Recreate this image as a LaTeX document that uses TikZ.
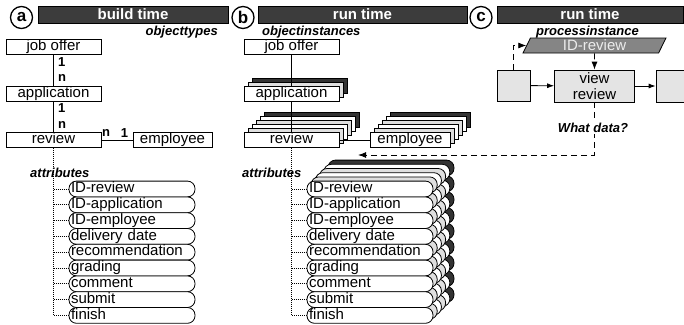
\documentclass[tikz,border=0pt]{standalone}
\usepackage{fontspec}
\setmainfont{Liberation Sans}
\usetikzlibrary{arrows.meta,shapes.geometric,positioning}

\definecolor{bardark}{HTML}{3C3C3C}
\definecolor{stackdark}{HTML}{333333}
\definecolor{taskgray}{HTML}{E4E4E4}
\definecolor{paramgray}{HTML}{858585}

\tikzset{
  letter/.style={draw, circle, line width=1.3pt, minimum size=22pt, inner sep=0pt, font=\fontsize{17}{17}\selectfont\bfseries},
  bar/.style={draw=black, fill=bardark, text=white, minimum height=17pt, inner sep=0pt, text height=10.5pt, text depth=0pt, font=\fontsize{15}{15}\selectfont\bfseries},
  box/.style={draw, fill=white, line width=0.8pt, minimum width=95pt, minimum height=15pt, inner sep=0pt, text height=10.5pt, text depth=3pt, font=\fontsize{15}{16}\selectfont},
  attr/.style={draw, fill=white, line width=0.8pt, rounded corners=7.5pt, minimum height=15.8pt, text width=122pt, inner xsep=2pt, inner ysep=0pt, align=left, text height=10.5pt, text depth=3pt, font=\fontsize{15}{16}\selectfont},
  mult/.style={inner sep=0pt, font=\fontsize{13}{13}\selectfont\bfseries},
  caption/.style={inner sep=0pt, font=\fontsize{13}{13}\selectfont\bfseries\itshape},
  task/.style={draw, fill=taskgray, line width=0.8pt, inner sep=0pt, align=center, font=\fontsize{15}{16.5}\selectfont},
  param/.style={trapezium, trapezium left angle=56, trapezium right angle=124, trapezium stretches body, draw, fill=paramgray, text=gray!15, line width=0.8pt, minimum width=143pt, minimum height=15pt, inner sep=0pt, font=\fontsize{15}{15}\selectfont},
  link/.style={line width=0.8pt},
  dots/.style={line width=0.8pt, dash pattern=on 1pt off 1pt},
  flow/.style={line width=0.8pt, -{Latex[length=7pt,width=5pt]}},
  ask/.style={line width=1pt, dash pattern=on 6pt off 4pt, -{Latex[length=8pt,width=6pt]}}
}

\begin{document}
\begin{tikzpicture}[x=1pt,y=-1pt]
\useasboundingbox (0,0) rectangle (684,324);

% (a) build time
\node[letter] (circA) at (21.5,17.5) {a};
\node[bar, minimum width=190pt] (barA) at (133,14.5) {build time};
\node[caption, anchor=east] (typesA) at (218,32) {objecttypes};
\node[box] (jobA) at (53.5,46.5) {job offer};
\node[box] (appA) at (53.5,94) {application};
\node[box] (revA) at (53.5,140) {review};
\node[box, minimum width=79pt] (empA) at (172.5,140) {employee};
\draw[link] (jobA) -- (appA);
\draw[link] (appA) -- (revA);
\draw[link] (revA) -- (empA);
\node[mult, anchor=west] (m1A) at (58,62) {1};
\node[mult, anchor=west] (m2A) at (58,78) {n};
\node[mult, anchor=west] (m3A) at (58,108) {1};
\node[mult, anchor=west] (m4A) at (58,125) {n};
\node[mult] (m5A) at (106,133) {n};
\node[mult] (m6A) at (124.5,133) {1};
\node[caption, anchor=west] (attrA) at (30,173) {attributes};
\foreach \t [count=\i] in {ID-review,ID-application,ID-employee,delivery date,recommendation,grading,comment,submit,finish}
  \node[attr] (attA\i) at (132,173.2+15.8*\i) {\t};
\draw[dots] (revA.south) -- (revA.south |- attA9.west) -- (attA9.west);
\foreach \i in {1,...,8}
  \draw[dots] (revA.south |- attA\i.west) -- (attA\i.west);

% (b) run time, instances
\node[letter] (circB) at (243,17.5) {b};
\node[bar, minimum width=209pt] (barB) at (362.5,14.5) {run time};
\node[caption, anchor=west] (instB) at (262,32) {objectinstances};
\node[box, fill=stackdark] (appB-2) at (299.5,86) {};
\node[box, fill=gray!25] (appB-1) at (295.5,90) {};
\foreach \k/\col in {5/stackdark,4/white,3/gray!25,2/white,1/gray!25} {
  \node[box, fill=\col] (revB-\k) at (291.5+4*\k,140-4*\k) {};
  \node[box, fill=\col, minimum width=80pt] (empB-\k) at (410+4*\k,140-4*\k) {};
}
\foreach \k/\col in {5/stackdark,4/white,3/gray!25,2/white,1/gray!25}
  \foreach \i in {1,...,9}
    \node[attr, fill=\col] (layB-\k-\i) at (370+4.2*\k,173.2+15.8*\i-4.2*\k) {};
\node[box] (jobB) at (291.5,46.5) {job offer};
\node[box] (appB) at (291.5,94) {application};
\node[box] (revB) at (291.5,140) {review};
\node[box, minimum width=80pt] (empB) at (410,140) {employee};
\draw[link] (jobB) -- (appB);
\draw[link] (appB) -- (revB);
\draw[link] (revB) -- (empB);
\node[caption, anchor=west] (attrB) at (242,173) {attributes};
\foreach \t [count=\i] in {ID-review,ID-application,ID-employee,delivery date,recommendation,grading,comment,submit,finish}
  \node[attr] (attB\i) at (370,173.2+15.8*\i) {\t};
\draw[dots] (revB.south) -- (revB.south |- attB9.west) -- (attB9.west);
\foreach \i in {1,...,8}
  \draw[dots] (revB.south |- attB\i.west) -- (attB\i.west);

% (c) run time, process
\node[letter] (circC) at (481,17.5) {c};
\node[bar, minimum width=186pt] (barC) at (590,14.5) {run time};
\node[caption] (procC) at (587.5,32) {processinstance};
\node[param] (dataC) at (594.5,45.5) {ID-review};
\node[task, minimum width=33pt, minimum height=31pt] (prevC) at (513.5,85.5) {};
\node[task, minimum width=80pt, minimum height=32pt] (viewC) at (594.5,86) {view\\review};
\node[task, minimum width=40pt, minimum height=32pt] (nextC) at (676,86) {};
\draw[flow] (prevC) -- (viewC);
\draw[flow] (viewC) -- (nextC);
\draw[ask, line width=0.8pt] (prevC.north) |- (dataC.west);
\draw[ask, line width=0.8pt] (dataC.south) -- (viewC.north);
\coordinate (dataEnd) at (358,155);
\draw[ask] (viewC.south) |- (dataEnd);
\node[caption, fill=white, inner sep=1.5pt] (askC) at (593,128) {What data?};
\end{tikzpicture}
\end{document}
